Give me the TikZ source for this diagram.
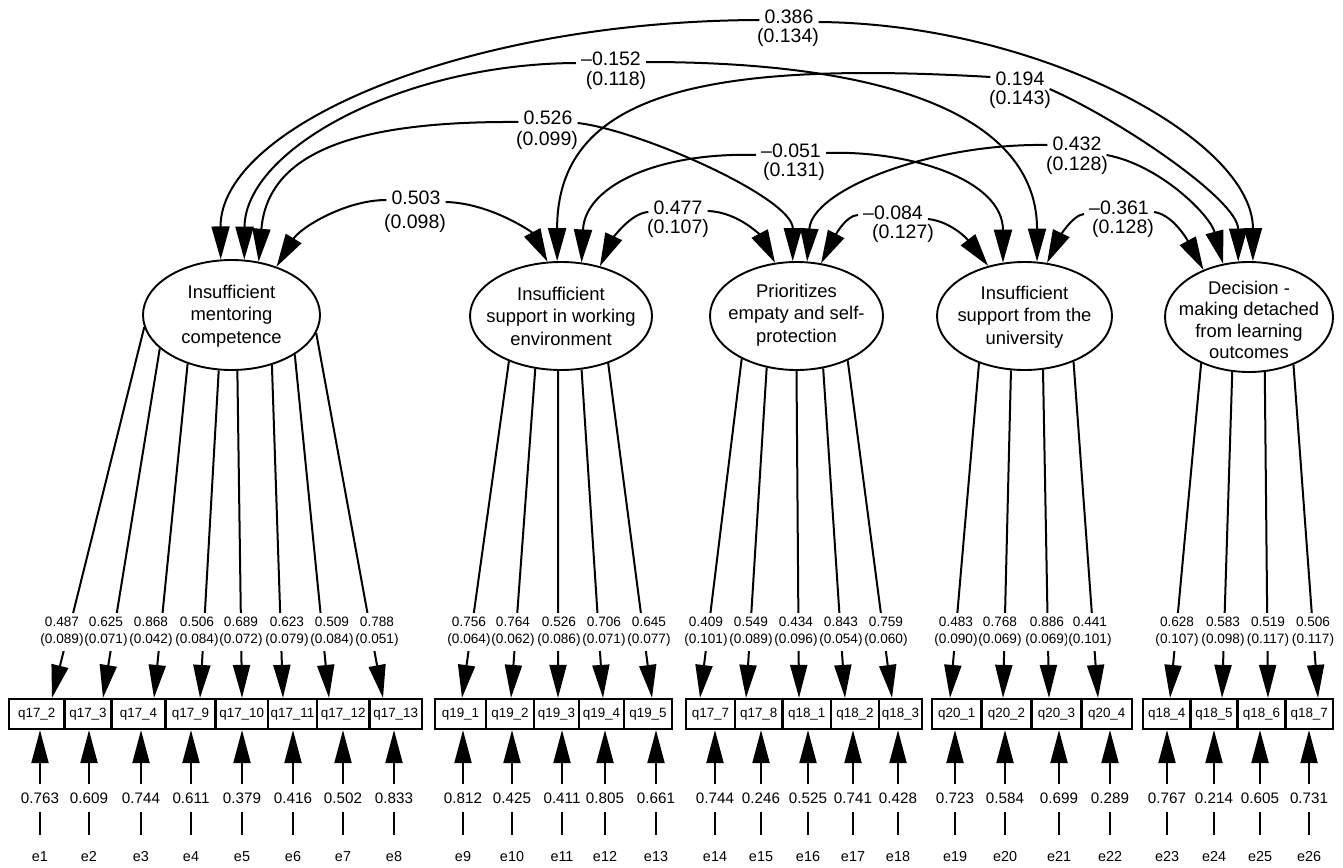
\documentclass[tikz,border=0pt]{standalone}
\usepackage{fontspec}
\setmainfont{Liberation Sans}
\usetikzlibrary{arrows.meta,shapes.geometric}
\begin{document}
\begin{tikzpicture}[x=1pt,y=1pt,
  lat/.style={ellipse, draw, line width=1.9pt, inner sep=0pt},
  lattxt/.style={align=center, inner sep=0pt, font=\fontsize{18.4}{22.5}\selectfont},
  box/.style={draw, line width=2.2pt, minimum height=30pt, inner sep=0pt, font=\fontsize{13.4}{15}\selectfont},
  load/.style={line width=2pt, -{Triangle[length=33pt,width=17pt]}},
  cov/.style={line width=2pt, -{Triangle[length=33pt,width=18pt]}},
  ld/.style={fill=white, align=center, inner xsep=1pt, inner ysep=4pt, font=\fontsize{13.6}{17.3}\selectfont},
  ev/.style={fill=white, inner xsep=1pt, inner ysep=0pt, minimum height=28pt, font=\fontsize{15.2}{18}\selectfont},
  en/.style={minimum height=44pt, inner sep=0pt, font=\fontsize{14.4}{17}\selectfont},
  cv/.style={inner xsep=5pt, inner ysep=0pt, font=\fontsize{19.5}{20}\selectfont}]
\useasboundingbox (0,0) rectangle (1343,-867);
\fill[white] (0,0) rectangle (1343,-867);

% latent variables
\node[lat, minimum width=177pt, minimum height=110pt] (L1) at (231.5,-315) {};
\node[lat, minimum width=182pt, minimum height=108pt] (L2) at (561,-316) {};
\node[lat, minimum width=173pt, minimum height=108pt] (L3) at (796.5,-316) {};
\node[lat, minimum width=175pt, minimum height=108pt] (L4) at (1024.5,-316) {};
\node[lat, minimum width=168pt, minimum height=110pt] (L5) at (1249,-317) {};
\node[lattxt] (T1) at (231.5,-316) {Insufficient\\mentoring\\competence};
\node[lattxt] (T2) at (561,-316) {Insufficient\\support in working\\environment};
\node[lattxt] (T3) at (796.5,-315) {Prioritizes\\empaty and self-\\protection};
\node[lattxt] (T4) at (1024.5,-317) {Insufficient\\support from the\\university};
\node[lattxt, font=\fontsize{18.4}{21.5}\selectfont] (T5) at (1249,-320) {Decision -\\making detached\\from learning\\outcomes};

% covariance labels
\node[cv] (cA) at (789,-17) {0.386};   \node[cv] (sA) at (788,-37) {(0.134)};
\node[cv] (cB) at (611,-59) {–0.152};  \node[cv] (sB) at (616,-80) {(0.118)};
\node[cv] (cC) at (548,-118) {0.526};  \node[cv] (sC) at (547,-140) {(0.099)};
\node[cv] (cD) at (416,-198) {0.503};  \node[cv] (sD) at (415,-223) {(0.098)};
\node[cv] (cE) at (1020,-79) {0.194};  \node[cv] (sE) at (1020,-99) {(0.143)};
\node[cv] (cF) at (791,-151) {–0.051}; \node[cv] (sF) at (794,-171) {(0.131)};
\node[cv] (cG) at (678,-208) {0.477};  \node[cv] (sG) at (678,-228) {(0.107)};
\node[cv] (cH) at (1077,-144) {0.432}; \node[cv] (sH) at (1077,-165) {(0.128)};
\node[cv] (cI) at (893,-213) {–0.084}; \node[cv] (sI) at (903,-233) {(0.127)};
\node[cv] (cJ) at (1119,-208) {–0.361};\node[cv] (sJ) at (1123,-228) {(0.128)};

% covariance curves
\draw[cov] ([yshift=-3pt]cA.west) .. controls (461,-21) and (220,-127) .. (L1.101);
\draw[cov] ([yshift=-5pt]cA.east) .. controls (1040,-24) and (1253,-140) .. (L5.86);
\draw[cov] ([yshift=-4pt]cB.west) .. controls (400,-64) and (245,-150) .. (L1.77);
\draw[cov] ([yshift=-3pt]cB.east) .. controls (912,-62) and (1037,-126) .. (L4.77);
\draw[cov] ([yshift=-4pt]cC.west) .. controls (360,-121) and (268,-150) .. (L1.63);
\draw[cov] ([yshift=-5pt]cC.east) .. controls (640,-130) and (793,-198) .. (L3.94);
\draw[cov] ([yshift=-2pt]cD.west) .. controls (345,-200) and (300,-228) .. (L1.47);
\draw[cov] ([yshift=-4pt]cD.east) .. controls (490,-203) and (532,-232) .. (L2.104);
\draw[cov] ([yshift=2pt]cE.west) .. controls (700,-60) and (557,-95) .. (L2.94);
\draw[cov] ([yshift=-10pt]cE.east) .. controls (1120,-120) and (1238,-200) .. (L5.101);
\draw[cov] ([yshift=-4pt]cF.west) .. controls (660,-152) and (585,-185) .. (L2.69);
\draw[cov] ([yshift=-2pt]cF.east) .. controls (910,-150) and (1003,-180) .. (L4.112);
\draw[cov] ([yshift=-4pt]cG.west) .. controls (630,-213) and (612,-240) .. (L2.52);
\draw[cov] ([yshift=-3pt]cG.east) .. controls (740,-212) and (762,-238) .. (L3.112);
\draw[cov] ([yshift=-1pt]cH.west) .. controls (930,-143) and (812,-190) .. (L3.79);
\draw[cov] ([yshift=-11pt]cH.east) .. controls (1160,-165) and (1210,-215) .. (L5.116);
\draw[cov] ([yshift=-2pt]cI.west) .. controls (845,-215) and (833,-240) .. (L3.65);
\draw[cov] ([yshift=-6pt]cI.east) .. controls (955,-222) and (972,-245) .. (L4.126);
\draw[cov] ([yshift=-6pt]cJ.west) .. controls (1072,-215) and (1058,-240) .. (L4.67);
\draw[cov] ([yshift=-4pt]cJ.east) .. controls (1175,-215) and (1190,-245) .. (L5.134);

\def\itemlist{%
1/9/64.5/q17\_2/L1/188/52/62/0.487/0.089/0.763/40,
2/64.5/111.5/q17\_3/L1/205/103/106/0.625/0.071/0.609/89,
3/111.5/165.5/q17\_4/L1/228/154/151/0.868/0.042/0.744/141,
4/165.5/215.5/q17\_9/L1/257/200/197/0.506/0.084/0.611/191,
5/215.5/268/q17\_10/L1/276/242/241/0.689/0.072/0.379/242,
6/268/317/q17\_11/L1/309/283/287/0.623/0.079/0.416/293,
7/317/369.5/q17\_12/L1/328/329/332/0.509/0.084/0.502/343,
8/369.5/422/q17\_13/L1/348/383/377/0.788/0.051/0.833/394,
9/435/486/q19\_1/L2/221/462/469/0.756/0.064/0.812/463,
10/486/534/q19\_2/L2/244/511/513/0.764/0.062/0.425/512,
11/534/579/q19\_3/L2/267/558/559/0.526/0.086/0.411/562,
12/579/624/q19\_4/L2/291/603/604/0.706/0.071/0.805/605,
13/624/672/q19\_5/L2/315/652/649/0.645/0.077/0.661/656,
14/686/735/q17\_7/L3/218/700/706/0.409/0.101/0.744/715,
15/735/782.5/q17\_8/L3/240/746/751/0.549/0.089/0.246/761,
16/782.5/831/q18\_1/L3/270/799/796/0.434/0.096/0.525/808,
17/831/879/q18\_2/L3/297/845/841/0.843/0.054/0.741/853,
18/879/922/q18\_3/L3/319/892/886/0.759/0.060/0.428/898,
19/932/981.5/q20\_1/L4/226/950/956/0.483/0.090/0.723/955,
20/981.5/1031.5/q20\_2/L4/256/1003/1000/0.768/0.069/0.584/1005,
21/1031.5/1081.5/q20\_3/L4/289/1049/1047/0.886/0.069/0.699/1059,
22/1081.5/1132/q20\_4/L4/317/1098/1090/0.441/0.101/0.289/1110,
23/1143/1190.5/q18\_4/L5/224/1170/1177/0.628/0.107/0.767/1167,
24/1190.5/1237.5/q18\_5/L5/253/1222/1223/0.583/0.098/0.214/1214,
25/1237.5/1285.5/q18\_6/L5/286/1268/1268/0.519/0.117/0.605/1260,
26/1285.5/1333/q18\_7/L5/313/1318/1313/0.506/0.117/0.731/1309}

% observed variables
\foreach \ii/\xl/\xr/\bt/\lat/\ang/\tipx/\lbx/\lval/\lse/\evar/\ex in \itemlist {
  \node[box, minimum width={\xr-\xl}] (b\ii) at ({(\xl+\xr)/2},-714) {\bt};
}
% loadings
\foreach \ii/\xl/\xr/\bt/\lat/\ang/\tipx/\lbx/\lval/\lse/\evar/\ex in \itemlist {
  \draw[load] (\lat.\ang) -- ([xshift={\tipx-(\xl+\xr)/2}]b\ii.north);
}
\foreach \ii/\xl/\xr/\bt/\lat/\ang/\tipx/\lbx/\lval/\lse/\evar/\ex in \itemlist {
  \node[ld] (ld\ii) at (\lbx,-632) {\lval\\(\lse)};
  \node[en] (en\ii) at (\ex,-857) {e\ii};
  \draw[load] (en\ii.north) -- (en\ii.north |- b\ii.south);
}
\foreach \ii/\xl/\xr/\bt/\lat/\ang/\tipx/\lbx/\lval/\lse/\evar/\ex in \itemlist {
  \node[ev] (ev\ii) at (\ex,-798) {\evar};
}
\end{tikzpicture}
\end{document}
